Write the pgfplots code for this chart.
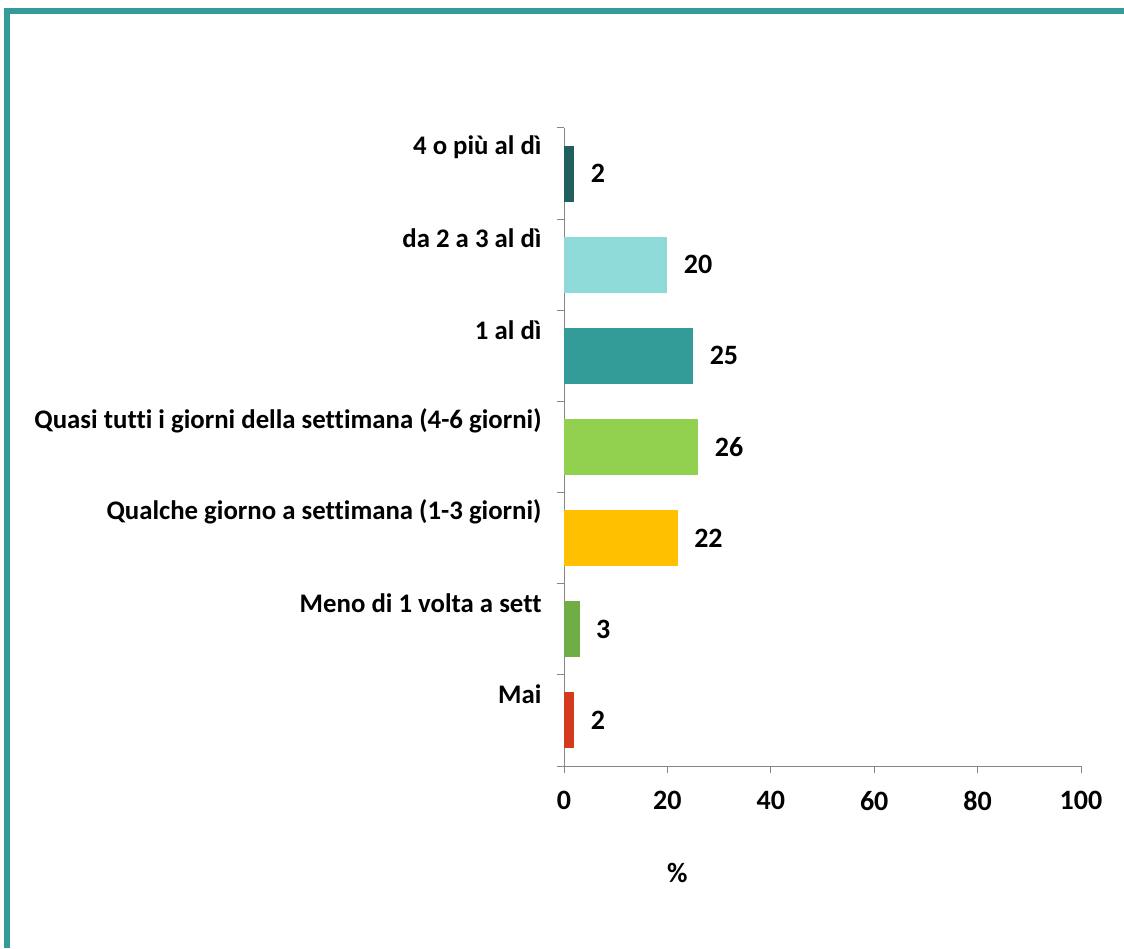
\documentclass[border=0pt]{standalone}
\usepackage{pgfplots}
\pgfplotsset{compat=1.18}
\usepackage{fontspec}
\setmainfont{Carlito}[Ligatures=NoCommon]
\definecolor{frameteal}{HTML}{339C99}
\definecolor{cA}{HTML}{215F5E}
\definecolor{cB}{HTML}{8EDAD8}
\definecolor{cC}{HTML}{339C99}
\definecolor{cD}{HTML}{92D050}
\definecolor{cE}{HTML}{FFC000}
\definecolor{cF}{HTML}{70AD47}
\definecolor{cG}{HTML}{D43A1E}
\definecolor{axisgray}{HTML}{868686}
\begin{document}
\begin{tikzpicture}[x=1pt,y=1pt]
\path[use as bounding box] (0,0) rectangle (1124,948);
\fill[white] (0,0) rectangle (1124,948);
\fill[frameteal] (4,934) rectangle (1124,940);
\fill[frameteal] (4,0) rectangle (10,940);
\begin{axis}[
  at={(564pt,182pt)}, anchor=south west,
  scale only axis, width=517pt, height=638pt,
  xbar, bar width=56pt,
  every axis plot/.append style={bar shift=0pt, draw=none},
  xmin=0, xmax=100, ymin=-0.5, ymax=6.5,
  xtick={0,20,40,60,80,100},
  ytick={-0.5,0.5,1.5,2.5,3.5,4.5,5.5,6.5},
  yticklabels={{},Mai,Meno di 1 volta a sett,Qualche giorno a settimana (1-3 giorni),Quasi tutti i giorni della settimana (4-6 giorni),1 al dì,da 2 a 3 al dì,4 o più al dì},
  axis x line*=bottom, axis y line*=left,
  axis line style={draw=axisgray, line width=1pt, -},
  tick style={draw=axisgray, line width=1pt},
  tick align=outside, major tick length=7pt,
  /pgf/number format/assume math mode=true,
  yticklabel style={font=\bfseries\fontsize{26.8}{26.8}\selectfont, anchor=east, yshift=-19.5pt, xshift=-12pt},
  xticklabel style={font=\bfseries\fontsize{28}{28}\selectfont, yshift=-15pt},
  xlabel={\%},
  xlabel style={font=\bfseries\fontsize{28}{28}\selectfont, at={(axis description cs:0.219,-0.168)}, anchor=center},
  nodes near coords,
  every node near coord/.append style={font=\bfseries\fontsize{28}{28}\selectfont, text=black, anchor=west, xshift=13pt},
]
\addplot[fill=cA] coordinates {(2,6)};
\addplot[fill=cB] coordinates {(20,5)};
\addplot[fill=cC] coordinates {(25,4)};
\addplot[fill=cD] coordinates {(26,3)};
\addplot[fill=cE] coordinates {(22,2)};
\addplot[fill=cF] coordinates {(3,1)};
\addplot[fill=cG] coordinates {(2,0)};
\end{axis}
\end{tikzpicture}
\end{document}
